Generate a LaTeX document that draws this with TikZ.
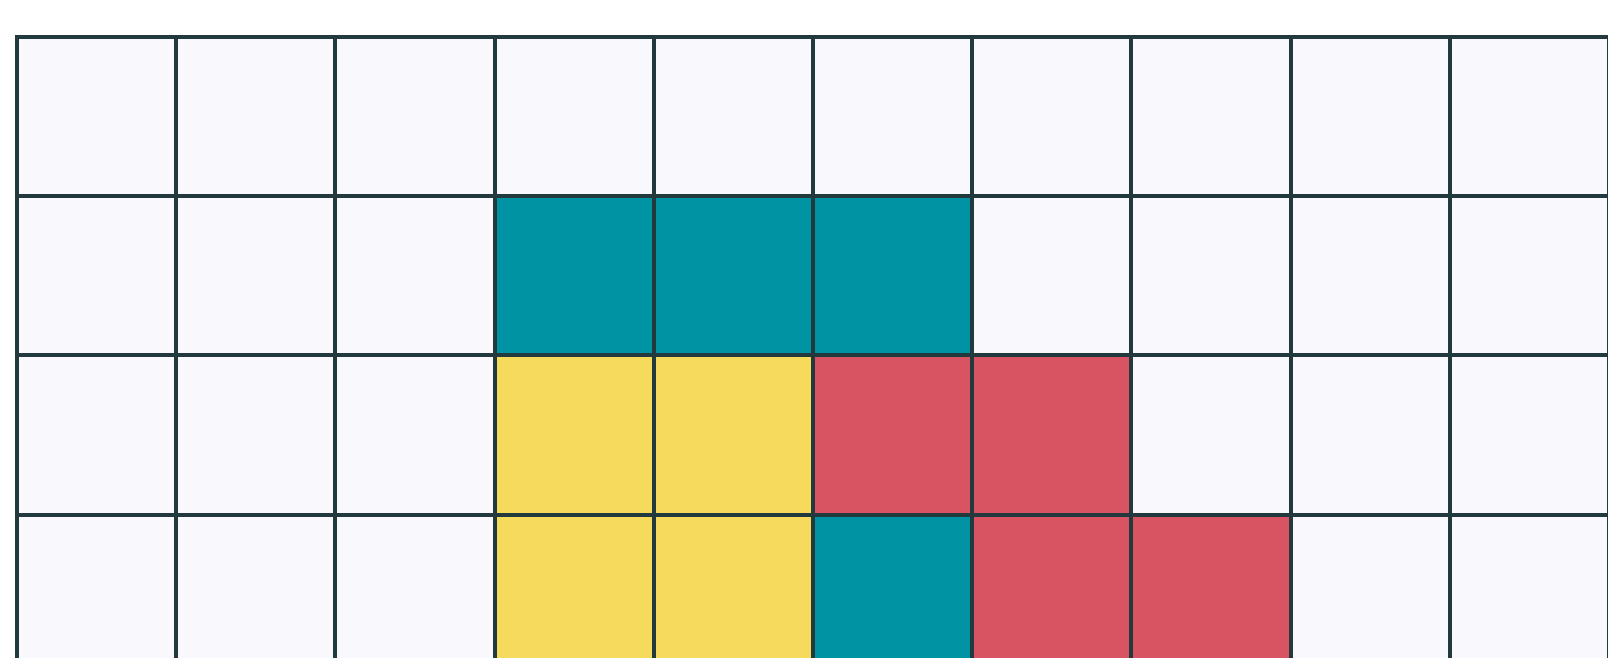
\documentclass[tikz,border=0pt]{standalone}
\definecolor{gridline}{HTML}{22393D}
\definecolor{cellbg}{HTML}{F8F8FD}
\definecolor{tealc}{HTML}{0093A3}
\definecolor{yellowc}{HTML}{F6DA5C}
\definecolor{redc}{HTML}{D95462}
\begin{document}
\begin{tikzpicture}[x=1pt,y=-1pt,
  cell/.style={draw=gridline,line width=4pt,fill=cellbg},
  teal/.style={cell,fill=tealc},
  yel/.style={cell,fill=yellowc},
  red/.style={cell,fill=redc}]
\useasboundingbox (0,0) rectangle (1608,658);
\fill[white] (0,0) rectangle (1608,658);
\clip (0,0) rectangle (1608,658);
\def\cs{159.2}
\foreach \r in {0,...,3}{
  \foreach \c in {0,...,9}{
    \path[cell] ({17+\c*\cs},{37+\r*\cs}) rectangle ++(\cs,\cs);
  }
}
\foreach \c/\r/\s in {3/1/teal,4/1/teal,5/1/teal,3/2/yel,4/2/yel,5/2/red,6/2/red,3/3/yel,4/3/yel,5/3/teal,6/3/red,7/3/red}{
  \path[\s] ({17+\c*\cs},{37+\r*\cs}) rectangle ++(\cs,\cs);
}
\end{tikzpicture}
\end{document}
